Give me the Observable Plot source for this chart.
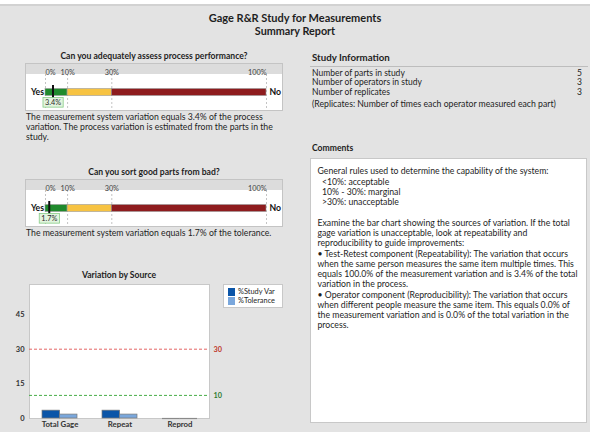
<!DOCTYPE html>
<html><head><meta charset="utf-8">
<script src="https://cdn.jsdelivr.net/npm/d3@7"></script>
<script src="https://cdn.jsdelivr.net/npm/@observablehq/plot@0.6"></script>
<style>
html,body{margin:0;padding:0;background:#fff;}
#page{position:relative;width:590px;height:432px;overflow:hidden;background:#e3e3e3;font-family:Lato,"Open Sans",sans-serif;color:#1e1e1e;}
.abs{position:absolute;white-space:nowrap;}
.abs svg{overflow:visible;}
</style></head><body><div id="page"></div>
<script>
// ---------- data ----------
const reportTitle = "Gage R&R Study for Measurements";
const reportSubtitle = "Summary Report";

const gaugeTicks = [0, 10, 30, 100];
const bandFrom = [0, 10, 30];
const bandTo = [10, 30, 100];
const bandColors = ["#1f8a2c", "#f7c342", "#8e1c1e"];

const gaugeQuestions = ["Can you adequately assess process performance?", "Can you sort good parts from bad?"];
const gaugeValues = [3.4, 1.7];
const gaugeTexts = [
  ["The measurement system variation equals 3.4% of the process", "variation. The process variation is estimated from the parts in the", "study."],
  ["The measurement system variation equals 1.7% of the tolerance."]
];

const sources = ["Total Gage", "Repeat", "Reprod"];
const studyVar = [3.4, 3.4, 0.0];
const tolerance = [1.7, 1.7, 0.0];
const yTicks = [0, 15, 30, 45];
const refLines = [30, 10];
const refColors = ["#e46464", "#46ad46"];
const refLabelColors = ["#c0392b", "#2e7d32"];
const seriesNames = ["%Study Var", "%Tolerance"];
const seriesColors = ["#0b55a8", "#7aa7dc"];

const infoLabels = ["Number of parts in study", "Number of operators in study", "Number of replicates"];
const infoValues = [5, 3, 3];
const infoNote = "(Replicates: Number of times each operator measured each part)";

const commentLines = [
  "General rules used to determine the capability of the system:",
  "\u00a0\u00a0<10%: acceptable",
  "\u00a0\u00a010% - 30%: marginal",
  "\u00a0\u00a0>30%: unacceptable",
  "",
  "Examine the bar chart showing the sources of variation. If the total",
  "gage variation is unacceptable, look at repeatability and",
  "reproducibility to guide improvements:",
  "\u2022 Test-Retest component (Repeatability): The variation that occurs",
  "when the same person measures the same item multiple times. This",
  "equals 100.0% of the measurement variation and is 3.4% of the total",
  "variation in the process.",
  "\u2022 Operator component (Reproducibility): The variation that occurs",
  "when different people measure the same item. This equals 0.0% of",
  "the measurement variation and is 0.0% of the total variation in the",
  "process."
];

// ---------- helpers ----------
const FONT = "Lato, 'Open Sans', sans-serif";
const BODY = "8.7px";
const SVGNS = "http://www.w3.org/2000/svg";
const page = document.getElementById("page");
function box(css) { const d = document.createElement("div"); d.className = "abs"; Object.assign(d.style, css); page.appendChild(d); return d; }
function text(str, css) { const d = box(css); d.textContent = str; return d; }

// top strip
box({left:"0px", top:"0px", width:"590px", height:"4px", background:"#fff"});
box({left:"0px", top:"4px", width:"590px", height:"2px", background:"#d2d2d2"});

text(reportTitle, {left:"0px", width:"590px", textAlign:"center", top:"11px", lineHeight:"14px", fontSize:"11px", fontWeight:"bold"});
text(reportSubtitle, {left:"0px", width:"590px", textAlign:"center", top:"24px", lineHeight:"14px", fontSize:"10.8px", fontWeight:"bold"});

// ---------- gauges ----------
const bands = bandFrom.map((f, i) => ({from: f, to: bandTo[i], color: bandColors[i]}));
function gauge(idx, top) {
  const value = gaugeValues[idx];
  text(gaugeQuestions[idx], {left:"26px", width:"256px", textAlign:"center", top:(top - 13) + "px", lineHeight:"10px", fontSize:"8.6px", fontWeight:"bold"});
  box({left:"26px", top: top + "px", width:"256px", height:"46px", background:"linear-gradient(#dcdcdc 0 10px, #fff 10px)", outline:"1px solid #c4c4c4"});
  const svg = Plot.plot({
    width: 256, height: 46, marginTop: 10, marginBottom: 0, marginLeft: 19, marginRight: 16,
    x: {domain: [0, 100], axis: null}, y: {axis: null},
    style: {background: "transparent", fontFamily: FONT, overflow: "visible"},
    marks: [
      Plot.ruleX(gaugeTicks, {x: d => d, stroke: "#c4c4c4", strokeDasharray: "2,2"}),
      Plot.text(gaugeTicks, {filter: (d, i) => i === 0, x: d => d, text: d => d + "%", frameAnchor: "top", dy: -5, textAnchor: "start", fill: "#444", fontSize: 7.3}),
      Plot.text(gaugeTicks, {filter: (d, i) => i > 0 && i < gaugeTicks.length - 1, x: d => d, text: d => d + "%", frameAnchor: "top", dy: -5, textAnchor: "middle", fill: "#444", fontSize: 7.3}),
      Plot.text(gaugeTicks, {filter: (d, i) => i === gaugeTicks.length - 1, x: d => d, text: d => d + "%", frameAnchor: "top", dy: -5, textAnchor: "end", fill: "#444", fontSize: 7.3}),
      Plot.barX(bands, {x1: "from", x2: "to", fill: "color", stroke: "#9a9a9a", strokeWidth: 0.6, insetTop: 14.5, insetBottom: 14.5}),
      Plot.ruleX([value], {x: d => d, stroke: "#111", strokeWidth: 2, insetTop: 11, insetBottom: 11}),
      Plot.text(["Yes"], {x: gaugeTicks[0], text: d => d, textAnchor: "end", dx: -1.5, fontWeight: "bold", fontSize: 8.7, fill: "#111"}),
      Plot.text(["No"], {x: gaugeTicks[gaugeTicks.length - 1], text: d => d, textAnchor: "start", dx: 3, fontWeight: "bold", fontSize: 8.7, fill: "#111"}),
      Plot.text([value], {x: d => d, text: d => d.toFixed(1) + "%", frameAnchor: "bottom", lineAnchor: "middle", dy: -8, fontSize: 7.3, fill: "#2a2a2a", className: "vlabel"})
    ]
  });
  box({left: "26px", top: top + "px"}).appendChild(svg);
  // boxed background behind the value label (styling of the text mark)
  svg.querySelectorAll(".vlabel text").forEach(t => {
    const b = t.getBBox();
    const r = document.createElementNS(SVGNS, "rect");
    r.setAttribute("x", b.x - 2); r.setAttribute("y", b.y - 0.3);
    r.setAttribute("width", b.width + 4); r.setAttribute("height", b.height + 0.6);
    r.setAttribute("fill", "#e2f4de"); r.setAttribute("stroke", "#86cc86"); r.setAttribute("stroke-width", "0.8");
    if (t.getAttribute("transform")) r.setAttribute("transform", t.getAttribute("transform"));
    t.parentNode.insertBefore(r, t);
  });
  gaugeTexts[idx].forEach((l, i) => text(l, {left: "26px", top: (top + 48.3 + i * 10) + "px", lineHeight: "10px", fontSize: BODY}));
}
gauge(0, 64);
gauge(1, 180);

// ---------- variation by source ----------
text("Variation by Source", {left:"29px", width:"180px", textAlign:"center", top:"269.5px", lineHeight:"11px", fontSize:"8.6px", fontWeight:"bold"});
const svRows = sources.map((s, i) => ({source: s, value: studyVar[i]}));
const tolRows = sources.map((s, i) => ({source: s, value: tolerance[i]}));
const bar = Plot.plot({
  width: 240, height: 152, marginTop: 4, marginBottom: 14, marginLeft: 29, marginRight: 31,
  x: {domain: sources, paddingInner: 0.42, paddingOuter: 0.21, axis: null},
  y: {domain: [0, 58], axis: null},
  style: {background: "transparent", fontFamily: FONT, overflow: "visible"},
  marks: [
    Plot.frame({fill: "#fff", stroke: "#c8c8c8"}),
    Plot.ruleY([refLines[0]], {y: d => d, stroke: refColors[0], strokeDasharray: "3,2"}),
    Plot.ruleY([refLines[1]], {y: d => d, stroke: refColors[1], strokeDasharray: "3,2"}),
    Plot.text([refLines[0]], {y: d => d, text: d => String(d), frameAnchor: "right", textAnchor: "start", dx: 4, fill: refLabelColors[0], fontSize: 7.3, fontWeight: "bold"}),
    Plot.text([refLines[1]], {y: d => d, text: d => String(d), frameAnchor: "right", textAnchor: "start", dx: 4, fill: refLabelColors[1], fontSize: 7.3, fontWeight: "bold"}),
    Plot.barY(svRows, {x: "source", y: "value", fill: seriesColors[0], stroke: "#7a7a7a", strokeWidth: 0.7, insetRight: 17.4}),
    Plot.barY(tolRows, {x: "source", y: "value", fill: seriesColors[1], stroke: "#7a7a7a", strokeWidth: 0.7, insetLeft: 17.4}),
    Plot.tickY(svRows, {filter: d => d.value === 0, x: "source", y: "value", stroke: "#8a8a8a", strokeWidth: 1.2, insetRight: 17.4}),
    Plot.tickY(tolRows, {filter: d => d.value === 0, x: "source", y: "value", stroke: "#8a8a8a", strokeWidth: 1.2, insetLeft: 17.4}),
    Plot.text(yTicks, {y: d => d, text: d => String(d), frameAnchor: "left", textAnchor: "end", dx: -5, fontSize: 7.5, fontWeight: "bold", fill: "#333"}),
    Plot.text(sources, {x: d => d, text: d => d, frameAnchor: "bottom", lineAnchor: "top", dy: 2.5, fontSize: 7.8, fontWeight: "bold", fill: "#333"})
  ]
});
box({left: "0px", top: "280px"}).appendChild(bar);

// legend
box({left: "224px", top: "285px", width: "58px", height: "22px", background: "#fff", outline: "1px solid #c8c8c8"});
seriesNames.forEach((n, i) => {
  box({left: "227.5px", top: (288 + i * 9.3) + "px", width: "7.5px", height: "7.5px", background: seriesColors[i]});
  text(n, {left: "238px", top: (287 + i * 9.3) + "px", lineHeight: "9.3px", fontSize: "7.4px"});
});

// ---------- study information ----------
text("Study Information", {left: "312px", top: "51px", lineHeight: "12px", fontSize: "9.7px", fontWeight: "bold"});
box({left: "310px", top: "65.5px", width: "278px", height: "1px", background: "#bdbdbd"});
infoLabels.forEach((l, i) => {
  text(l, {left: "312px", top: (68.8 + i * 9.6) + "px", lineHeight: "9.6px", fontSize: "8.5px"});
  text(String(infoValues[i]), {left: "500px", width: "82px", textAlign: "right", top: (68.8 + i * 9.6) + "px", lineHeight: "9.6px", fontSize: "8.5px"});
});
text(infoNote, {left: "312px", top: "99px", lineHeight: "10px", fontSize: BODY});

// ---------- comments ----------
text("Comments", {left: "312px", top: "142.5px", lineHeight: "11px", fontSize: "8.6px", fontWeight: "bold"});
box({left: "311px", top: "159px", width: "275px", height: "263px", background: "#fff", outline: "1px solid #c8c8c8"});
commentLines.forEach((l, i) => { if (l) text(l, {left: "317.5px", top: (166.4 + i * 10.27) + "px", lineHeight: "10.27px", fontSize: BODY}); });
</script></body></html>
